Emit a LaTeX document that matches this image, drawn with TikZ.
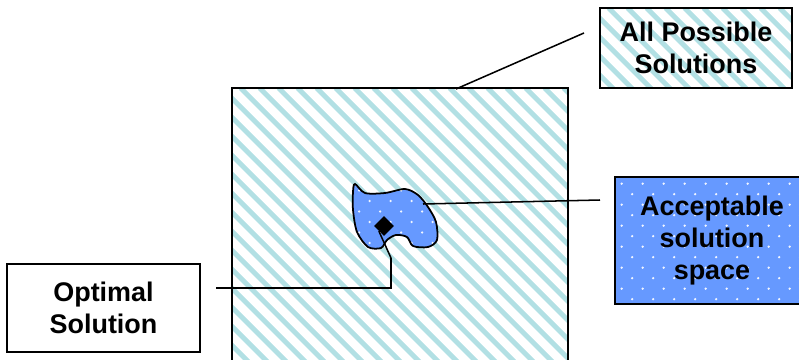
\documentclass[tikz,border=0pt]{standalone}
\usepackage{fontspec}
\setmainfont{Liberation Sans}
\usetikzlibrary{shapes.geometric}
\definecolor{stripec}{RGB}{178,224,228}
\definecolor{accblue}{RGB}{102,153,255}
\tikzset{
  stripeln/.style ={draw=stripec,line width=4.2pt},
  stripefill/.style={path picture={
      \foreach \s in {-10,-9.43,...,11}
        \draw[stripeln] ([xshift=\s cm]path picture bounding box.north west) -- ++(12cm,-12cm);
    }},
  dotfill/.style   ={fill=accblue,path picture={
      \foreach \a in {0,...,10}
        \foreach \b in {0,...,7}{
          \fill[white!90!accblue] ([shift={(\a*0.63cm+0.2cm,-\b*0.63cm-0.2cm)}]path picture bounding box.north west) circle (1.1pt);
          \fill[white!90!accblue] ([shift={(\a*0.63cm+0.515cm,-\b*0.63cm-0.515cm)}]path picture bounding box.north west) circle (1.1pt);
        }
    }},
  box/.style       ={rectangle,draw=black,line width=1.6pt,align=center,
                     font=\bfseries\fontsize{23}{27}\selectfont},
  ed/.style        ={draw=black,line width=1.3pt},
}

\begin{document}
\begin{tikzpicture}[x=0.03cm, y=-0.03cm]
\useasboundingbox (0,0) rectangle (799,360);

%% ---------------- the whole space ----------------
\node[box,stripefill,minimum width=10.08cm,minimum height=8.76cm] (space) at (400,234) {};

%% ---------------- acceptable region ----------------
\draw[ed,line width=1.5pt,dotfill] plot[smooth cycle] coordinates {
  (355,184) (365,193) (385,193) (405,189) (418,195) (428,207) (436,222)
  (437,240) (428,247) (413,246) (407,237) (396,235) (387,240) (381,248)
  (368,247) (357,232) (353,210) (353,192)};

%% ---------------- callout ends ----------------
\coordinate (sqtop)  at (456,89);
\coordinate (alltip) at (584,33);
\coordinate (blobR)  at (423,204);
\coordinate (acctip) at (600,200);
\coordinate (opttip) at (216,288);
\coordinate (bend)   at (391,258);

%% ---------------- optimum ----------------
\node[diamond,fill=black,minimum size=0.6cm,inner sep=0pt] (opt) at (384,226) {};

%% ---------------- labels ----------------
\node[box,stripefill,minimum width=5.76cm,minimum height=2.4cm] (all) at (696,48) {All Possible\\Solutions};
\node[box,dotfill,minimum width=5.82cm,minimum height=3.81cm] (acc) at (712,240.5) {Acceptable\\solution\\space};
\node[box,fill=white,minimum width=5.79cm,minimum height=2.64cm] (optbox) at (103.5,308) {Optimal\\Solution};

%% ---------------- connectors ----------------
\draw[ed] (sqtop) -- (alltip);
\draw[ed] (blobR) -- (acctip);
\draw[ed] (opttip) -| (bend) -- (opt.south west);

\end{tikzpicture}
\end{document}
